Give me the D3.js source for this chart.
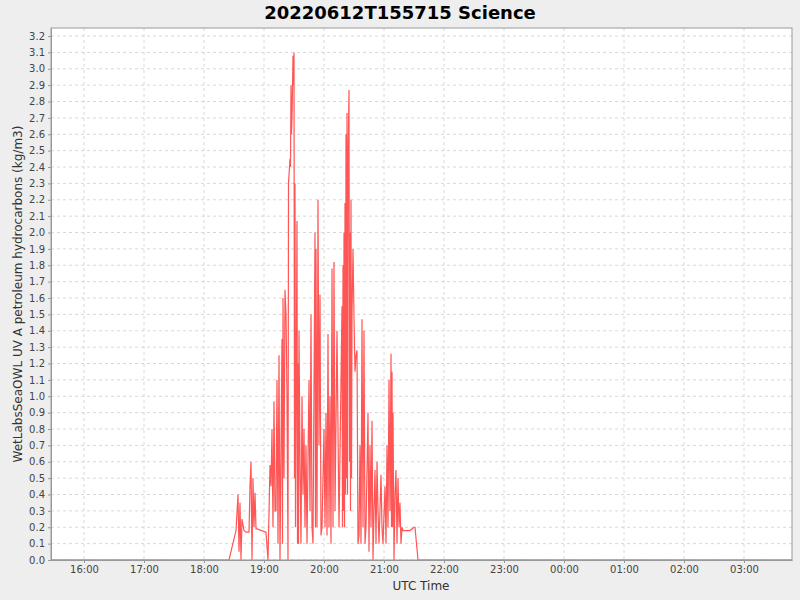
<!DOCTYPE html>
<html><head><meta charset="utf-8">
<script src="https://cdn.jsdelivr.net/npm/d3@7"></script>
<style>body{margin:0;background:#eeeeee;font-family:"DejaVu Sans",sans-serif}</style>
</head><body><svg id="c" width="800" height="600"></svg>
<script>
// [minutes after 16:00 UTC, value kg/m3]
const readings = [[-33,0],[145,0],[152,0.18],[154,0.4],[155,0.05],[156,0.35],[157,0],[158,0.25],[160,0.18],[162,0.17],[165,0.17],[166,0.45],[167,0.6],[168,0],[169,0.5],[170,0.2],[171,0.41],[172,0.19],[173,0.19],
[182,0.17],[184,0],[186,0.58],[187,0.45],[188,0.8],[189,0.2],[190,0.97],[191,0.3],[192,0.3],[193,1.1],[194,0.1],[195,1.25],[196,0],[198,1.35],[198.5,0.1],[199,1.6],[200,0.5],[201,1.65],[202,1.5],[203,1.0],[204,0],
[204.5,2.3],[205,2.35],[206,2.45],[206.5,2.4],[207,2.9],[207.5,2.6],[208,2.7],[209,3.08],[209.5,2.9],[210,3.1],[210.5,0.5],[211,2.3],[211.5,0.2],[213,2.07],[213.5,0.1],[214,1.2],[214.5,0.1],[215,1.4],[216,0.6],[217,0.1],[218,1.0],[219,0.4],[220,0.8],[221,0.2],[222,0.7],[223,0.1],[225,1.1],[226,0.3],[227,1.5],[228,0.2],[229,0.1],
[231,2.0],[231.5,0.2],[232,1.9],[233,0.2],[234,2.2],[235,0.7],[236,1.62],[237,0.15],[238,0.2],[240,0.8],[241,0.2],[242,0.9],[243,0.15],[244,1.38],[245,0.2],[246,1.0],[247,0.1],[248,1.78],[249,0.2],[250,1.82],[251,0.3],[253,1.4],[254,0.8],[255,0.2],
[258,1.55],[258.5,0.2],[259,1.8],[259.5,0.3],[260,2.0],[260.5,0.2],[261,2.18],[261.5,0.4],[262,2.6],[262.5,0.5],[263,2.73],[263.5,0.4],[264,2.4],[265,2.87],[265.5,0.6],[266,2.0],[266.5,0.3],[267,2.2],[267.5,0.5],[268,1.5],[269,1.9],[270,1.48],[271,1.15],[272,1.25],[273,1.28],[274,0.1],[275,0.15],[276,0.7],[277,0.1],[278,1.47],[279,0.2],[280,1.4],[281,0.1],[282,0.2],
[284,0.9],[285,0.05],[286,0.7],[287,0.2],[288,0.85],[289,0],[290,0.3],[291,0.55],[292,0.1],[293,0.6],[294,0.3],[295,0.1],[297,0.52],[298,0.2],[299,0.1],[301,0.45],[302,0.1],[303,0.7],[304,0.2],[305,1.1],[306,0.3],[307,1.26],[307.5,0.2],[308,1.15],[308.5,0.2],[309,0.9],[310,0],[311,0.4],[312,0.55],[313,0.1],[314,0.5],[315,0.2],[316,0.35],[317,0.1],[318,0.2],[319,0.18],[322,0.18],[326,0.18],[330,0.2],[331,0.2],[334,0],[708,0]];
const xTicks = [0,60,120,180,240,300,360,420,480,540,600,660];
const xTickLabels = ["16:00","17:00","18:00","19:00","20:00","21:00","22:00","23:00","00:00","01:00","02:00","03:00"];
const yTicks = d3.range(0,33).map(i=>+(i/10).toFixed(1));

const svg=d3.select("#c");
const L=51,R=792,T=28,B=560;
const x=d3.scaleLinear().domain([-33,708]).range([L,R]);
const y=d3.scaleLinear().domain([0,3.249]).range([B,T]);
svg.append("rect").attr("x",L).attr("y",T).attr("width",R-L).attr("height",B-T).attr("fill","#fff");
const g=svg.append("g");
g.selectAll(".gx").data(xTicks).join("line").attr("x1",d=>x(d)).attr("x2",d=>x(d)).attr("y1",T).attr("y2",B).attr("stroke","#d8d8d8").attr("stroke-dasharray","3,3");
g.selectAll(".gy").data(yTicks).join("line").attr("y1",d=>y(d)).attr("y2",d=>y(d)).attr("x1",L).attr("x2",R).attr("stroke","#d8d8d8").attr("stroke-dasharray","3,3");
svg.append("path").datum(readings).attr("d",d3.line().x(d=>x(d[0])).y(d=>y(d[1]))).attr("fill","none").attr("stroke","#ff5555").attr("stroke-width",1.2);
svg.append("rect").attr("x",L).attr("y",T).attr("width",R-L).attr("height",B-T).attr("fill","none").attr("stroke","#999");
const xa=svg.append("g").attr("transform",`translate(0,${B})`).call(d3.axisBottom(x).tickValues(xTicks).tickFormat((d,i)=>xTickLabels[i]).tickSize(3).tickSizeOuter(0));
const ya=svg.append("g").attr("transform",`translate(${L},0)`).call(d3.axisLeft(y).tickValues(yTicks).tickFormat(d3.format(".1f")).tickSize(3).tickSizeOuter(0));
[xa,ya].forEach(a=>{a.select(".domain").attr("stroke","#999");a.selectAll("line").attr("stroke","#999");a.selectAll("text").attr("font-size",10).attr("fill","#444").attr("font-family","DejaVu Sans");});
svg.append("text").attr("x",400).attr("y",19).attr("text-anchor","middle").attr("font-size",18).attr("font-weight","bold").text("20220612T155715 Science");
svg.append("text").attr("x",421).attr("y",590).attr("text-anchor","middle").attr("font-size",12).attr("fill","#333").text("UTC Time");
svg.append("text").attr("transform","translate(22,294) rotate(-90)").attr("text-anchor","middle").attr("font-size",12).attr("fill","#333").text("WetLabsSeaOWL UV A petroleum hydrocarbons (kg/m3)");
</script></body></html>
